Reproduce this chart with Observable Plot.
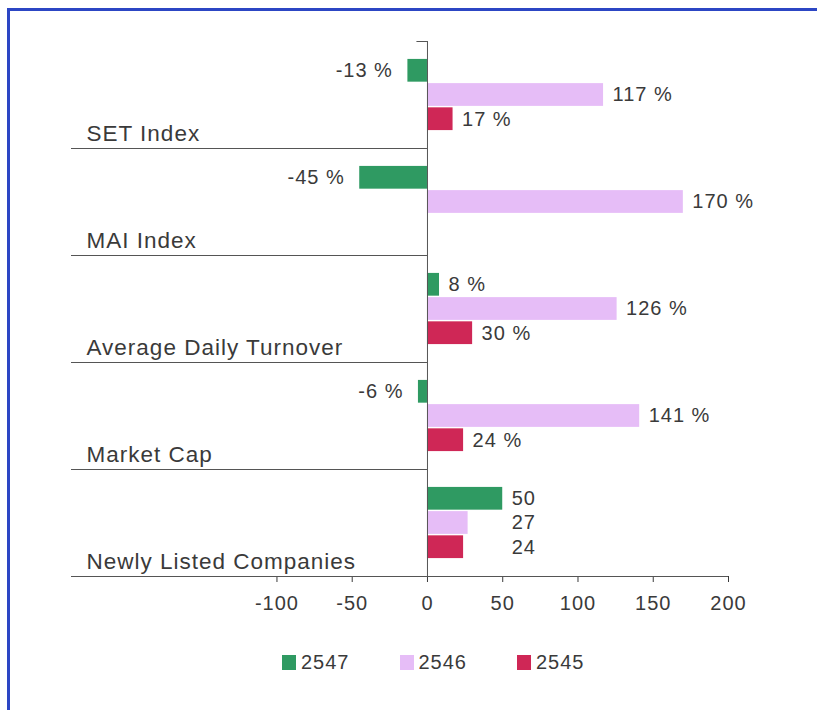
<!DOCTYPE html>
<html><head><meta charset="utf-8">
<script src="https://cdn.jsdelivr.net/npm/d3@7"></script>
<script src="https://cdn.jsdelivr.net/npm/@observablehq/plot@0.6"></script>
<style>
body{margin:0;background:#fff;font-family:"Liberation Sans",Arial,sans-serif;}
#frame{position:absolute;left:7px;top:8px;width:810px;height:702px;border-top:3px solid #2c46c4;border-left:3px solid #2c46c4;box-sizing:border-box;}
#chart{position:absolute;left:0;top:0;}
#chart svg text{letter-spacing:1px;}
#legend{position:absolute;top:650px;left:282px;height:24px;display:flex;align-items:center;font-size:20px;color:#3a3a3a;letter-spacing:1px;}
.item{display:flex;align-items:center;margin-right:50px;}
.sw{width:14px;height:15px;margin-right:5px;}
</style></head><body>
<div id="frame"></div><div id="chart"></div><div id="legend"></div>
<script>
const categories = ["SET Index","MAI Index","Average Daily Turnover","Market Cap","Newly Listed Companies"];
const series = ["2547","2546","2545"];
const values2547 = [-13,-45,8,-6,50];
const values2546 = [117,170,126,141,27];
const values2545 = [17,null,30,24,24];
const isPercent = [true,true,true,true,false];
const xTicks = [-100,-50,0,50,100,150,200];
const colors = ["#2f9a62","#e6bdf7","#cf2756"];

const seriesValues = [values2547, values2546, values2545];
const rows = [];
categories.forEach((c, i) => {
  const groupMax = d3.max(seriesValues, s => s[i]);
  series.forEach((s, k) => {
    const v = seriesValues[k][i];
    if (v == null) return;
    rows.push({category: c, series: s, k, value: v,
      labelX: isPercent[i] ? v : groupMax,
      label: isPercent[i] ? `${v} %` : `${v}`});
  });
});

const xMin = -236.5, xMax = 200;
const yTop = -1.21, yBottom = 3.21, half = 0.47;
const axisColor = "#555";
const textColor = "#3a3a3a";

const chart = Plot.plot({
  width: 817, height: 640,
  marginLeft: 71, marginRight: 89, marginTop: 40, marginBottom: 63,
  style: {fontFamily: "Liberation Sans, Arial, sans-serif", fontSize: "20px", color: textColor, background: "transparent"},
  x: {domain: [xMin, xMax], ticks: xTicks, tickFormat: d => String(d), tickSize: 6, tickPadding: 13, label: null},
  y: {domain: [yTop, yBottom], reverse: true, axis: null},
  fy: {domain: categories, padding: 0, axis: null},
  color: {domain: series, range: colors},
  marks: [
    Plot.rect(rows, {fy: "category", x1: () => 0, x2: "value", y1: d => d.k - half, y2: d => d.k + half, fill: "series"}),
    Plot.ruleY([yBottom], {x1: () => xMin, x2: () => 0, stroke: axisColor}),
    Plot.ruleY([categories[categories.length - 1]], {fy: d => d, y: () => yBottom, x1: () => 0, x2: () => xMax, stroke: axisColor}),
    Plot.ruleY([categories[0]], {fy: d => d, y: () => yTop, x1: () => -7, x2: () => 0, stroke: axisColor}),
    Plot.ruleX([0], {stroke: axisColor}),
    Plot.text(rows.filter(d => d.value >= 0), {fy: "category", x: "labelX", y: "k", text: "label", textAnchor: "start", dx: 9, fill: textColor, fontSize: 20}),
    Plot.text(rows.filter(d => d.value < 0), {fy: "category", x: "labelX", y: "k", text: "label", textAnchor: "end", dx: -15, fill: textColor, fontSize: 20}),
    Plot.text(categories, {fy: d => d, x: () => xMin, y: () => yBottom, text: d => d, textAnchor: "start", lineAnchor: "bottom", dx: 15, dy: -8, fontSize: 22.5, fill: textColor})
  ]
});
document.getElementById("chart").appendChild(chart);

const legend = document.getElementById("legend");
series.forEach((s, k) => {
  const item = document.createElement("div");
  item.className = "item";
  const sw = document.createElement("div");
  sw.className = "sw";
  sw.style.background = colors[k];
  const t = document.createElement("span");
  t.textContent = s;
  item.appendChild(sw); item.appendChild(t);
  legend.appendChild(item);
});
</script>
</body></html>
